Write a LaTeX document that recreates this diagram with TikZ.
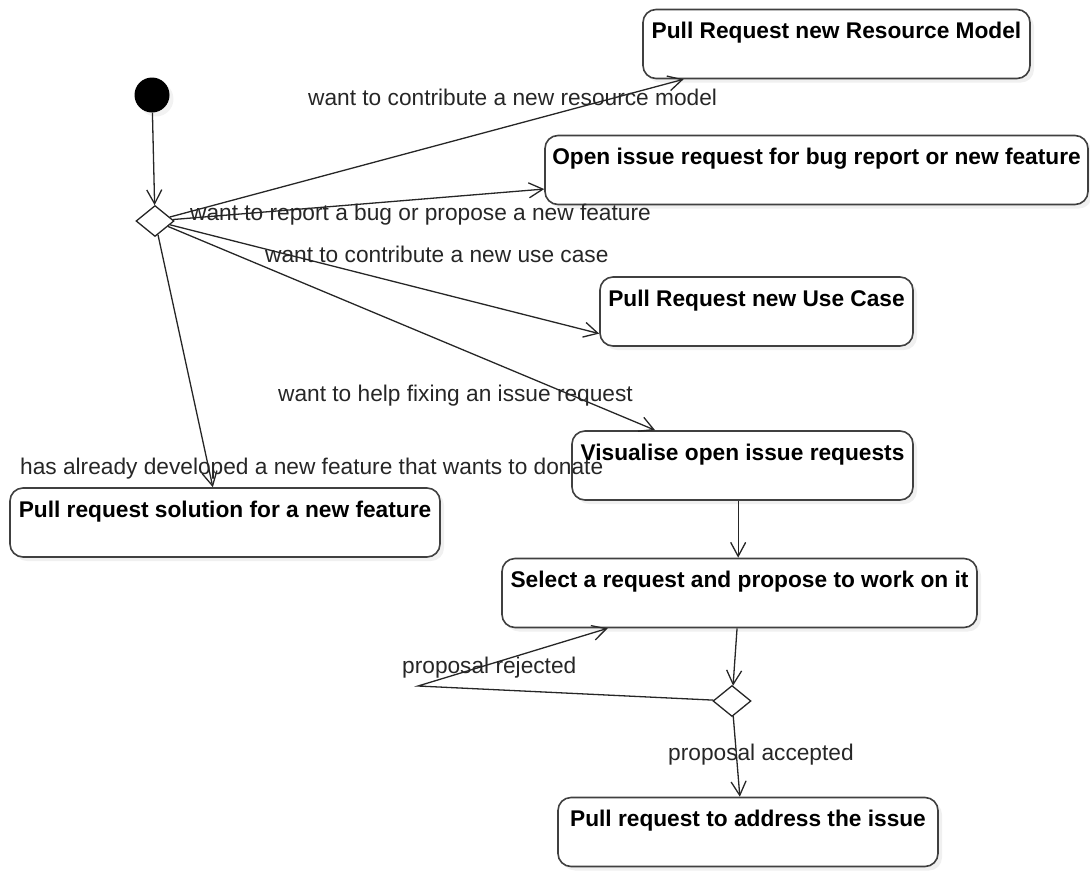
\documentclass[tikz,border=0pt]{standalone}
\usepackage{fontspec}
\setmainfont{Liberation Sans}
\usetikzlibrary{arrows.meta, shapes.geometric, shadows}
\tikzset{
  act/.style={draw=black!75, line width=1.6pt, rounded corners=13pt, fill=white, font=\fontsize{22.7}{27}\selectfont\bfseries, inner sep=0pt, text height=29pt, text depth=40pt, drop shadow={shadow xshift=4pt, shadow yshift=-4pt, opacity=0.12}},
  dec/.style={diamond, draw=black!85, line width=1.3pt, fill=white, minimum width=38pt, minimum height=31pt, inner sep=0pt},
  flow/.style={-{Straight Barb[length=14pt,width=15pt]}, line width=1.3pt, black!85},
  lbl/.style={font=\fontsize{22.7}{27}\selectfont, anchor=base west, inner sep=0pt, text=black!85}
}
\begin{document}
\begin{tikzpicture}[x=1pt, y=-1pt]
\useasboundingbox (0,0) rectangle (1090,871);
\node[act, minimum width=387pt] (RM) at (836.5,44) {Pull Request new Resource Model};
\node[act, minimum width=543pt] (Bug) at (816.5,170) {Open issue request for bug report or new feature};
\node[act, minimum width=313pt] (UC) at (756.5,311.5) {Pull Request new Use Case};
\node[act, minimum width=341pt] (Vis) at (742.5,465.5) {Visualise open issue requests};
\node[act, minimum width=430pt] (Sol) at (225,522.5) {Pull request solution for a new feature};
\node[act, minimum width=475pt] (Sel) at (739.5,593) {Select a request and propose to work on it};
\node[act, minimum width=380pt] (Fix) at (748,832) {Pull request to address the issue};
\node[circle, fill=black, minimum size=35pt, inner sep=0pt, drop shadow={shadow xshift=4pt, shadow yshift=-4pt, opacity=0.1}] (Start) at (152,95) {};
\node[dec] (D1) at (155,221) {};
\node[dec] (D2) at (732,701) {};
\coordinate (Back) at (418,686);
\draw[flow] (Start) -- (D1);
\draw[flow] (D1) -- (RM.193.4);
\draw[flow] (D1) -- (Bug.184.2);
\draw[flow] (D1) -- (UC.188);
\draw[flow] (D1) -- (Vis.158.6);
\draw[flow] (D1) -- (Sol.109);
\draw[flow] (Vis.263) -- (Vis.263 |- Sel.north);
\draw[flow] (Sel) -- (D2);
\draw[flow] (D2) -- (Back) -- (Sel.195);
\draw[flow] (D2) -- (Fix.103);
\node[lbl] (L1) at (308,105) {want to contribute a new resource model};
\node[lbl] (L2) at (190,220) {want to report a bug or propose a new feature};
\node[lbl] (L3) at (265,262) {want to contribute a new use case};
\node[lbl] (L4) at (278,401) {want to help fixing an issue request};
\node[lbl] (L5) at (20,474) {has already developed a new feature that wants to donate};
\node[lbl] (L6) at (402,673) {proposal rejected};
\node[lbl] (L7) at (668,760) {proposal accepted};
\end{tikzpicture}
\end{document}
